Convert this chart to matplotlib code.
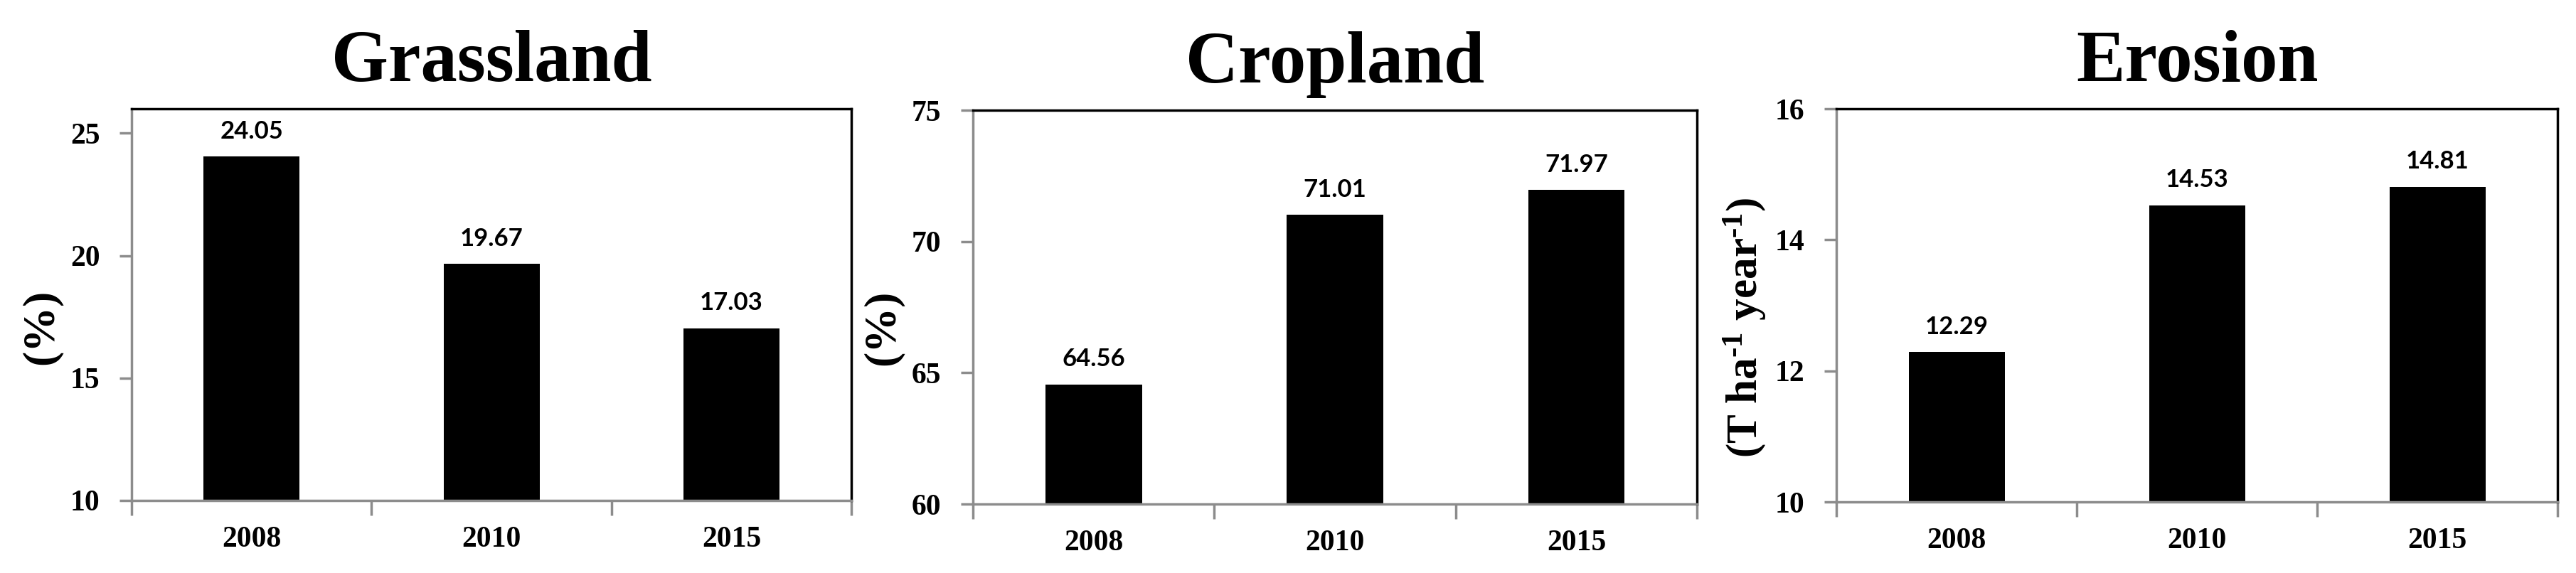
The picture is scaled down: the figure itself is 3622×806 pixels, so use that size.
#!/usr/bin/env python3
import matplotlib
matplotlib.use("Agg")
import matplotlib.pyplot as plt
from matplotlib.ticker import FixedLocator, MultipleLocator

YEARS = ["2008", "2010", "2015"]

GRASSLAND = [24.05, 19.67, 17.03]
CROPLAND = [64.56, 71.01, 71.97]
EROSION = [12.29, 14.53, 14.81]

TITLES = ["Grassland", "Cropland", "Erosion"]
YLABELS = ["(%)", "(%)", r"(T ha$^{\text{-1}}$ year$^{\text{-1}}$)"]
YLIMS = [(10, 26), (60, 75), (10, 16)]
YSTEPS = [5, 5, 2]

SERIF = "Liberation Serif"
plt.rcParams["mathtext.fontset"] = "custom"
plt.rcParams["mathtext.rm"] = "Liberation Serif:bold"
plt.rcParams["mathtext.it"] = "Liberation Serif:bold"
plt.rcParams["mathtext.bf"] = "Liberation Serif:bold"

GRAY = "#8c8c8c"

# axes boxes in figure fractions [left, bottom, width, height]
POSITIONS = [
    [0.0511, 0.1266, 0.2794, 0.6836],
    [0.3777, 0.1203, 0.2811, 0.6873],
    [0.7129, 0.1240, 0.2800, 0.6860],
]
# y-label size and vertical placement (axes fraction) per panel
LABEL_SIZES = [46, 46, 44]
LABEL_Y = [0.443, 0.448, 0.443]


def draw_panel(ax, values, title, ylabel, ylim, step, lsize, ly):
    x = list(range(len(YEARS)))
    ax.bar(x, values, width=0.4, color="black", zorder=2)
    ax.set_xlim(-0.5, len(YEARS) - 0.5)
    ax.set_ylim(*ylim)
    ax.yaxis.set_major_locator(MultipleLocator(step))

    ax.set_xticks(x)
    ax.set_xticklabels(YEARS)
    ax.xaxis.set_minor_locator(FixedLocator([i - 0.5 for i in range(len(YEARS) + 1)]))
    ax.tick_params(axis="x", which="major", length=0, pad=26)
    ax.tick_params(axis="x", which="minor", length=15, width=2.5, color=GRAY)
    ax.tick_params(axis="y", which="major", length=12, width=2.5, color=GRAY, pad=20)

    for lab in ax.get_xticklabels() + ax.get_yticklabels():
        lab.set_fontfamily(SERIF)
        lab.set_fontweight("bold")
        lab.set_fontsize(30)

    for side in ("left", "bottom"):
        ax.spines[side].set_color(GRAY)
        ax.spines[side].set_linewidth(2.5)
    for side in ("top", "right"):
        ax.spines[side].set_color("black")
        ax.spines[side].set_linewidth(2.5)

    ax.set_title(title, fontfamily=SERIF, fontweight="bold", fontsize=74, pad=28)
    ax.set_ylabel(ylabel, fontfamily=SERIF, fontweight="bold", fontsize=lsize)
    ax.yaxis.set_label_coords(-0.096, ly)

    for i, v in enumerate(values):
        ax.annotate(
            f"{v:.2f}",
            (i, v),
            xytext=(0, 14),
            textcoords="offset points",
            ha="center",
            va="bottom",
            fontfamily="Lato",
            fontweight="bold",
            fontsize=25,
        )


def main() -> None:
    fig = plt.figure(figsize=(36.22, 8.06), dpi=100)
    data = [GRASSLAND, CROPLAND, EROSION]
    for pos, values, title, ylabel, ylim, step, lsize, ly in zip(
        POSITIONS, data, TITLES, YLABELS, YLIMS, YSTEPS, LABEL_SIZES, LABEL_Y
    ):
        ax = fig.add_axes(pos)
        draw_panel(ax, values, title, ylabel, ylim, step, lsize, ly)
    fig.savefig("out.png", dpi=100, facecolor="white")
    plt.close(fig)


if __name__ == "__main__":
    main()
